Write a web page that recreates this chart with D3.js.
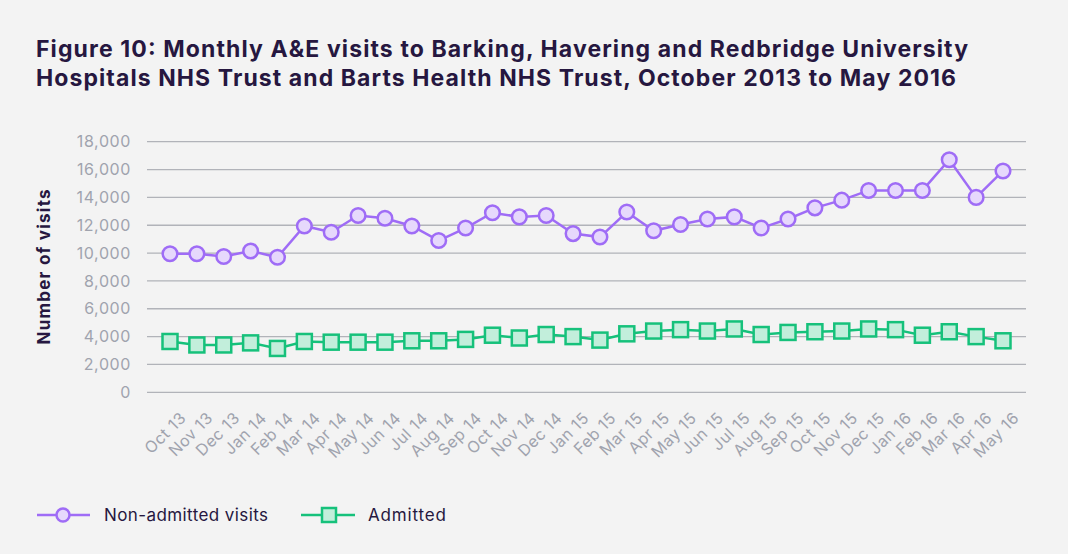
<!DOCTYPE html>
<html>
<head>
<meta charset="utf-8">
<script src="https://cdn.jsdelivr.net/npm/d3@7"></script>
<style>
  html, body { margin: 0; padding: 0; background: #f3f3f3; }
  svg { display: block; font-family: "Inter", "Open Sans", sans-serif; }
</style>
</head>
<body>
<svg id="chart"></svg>
<script>
const months = ["Oct 13","Nov 13","Dec 13","Jan 14","Feb 14","Mar 14","Apr 14","May 14","Jun 14","Jul 14","Aug 14","Sep 14",
  "Oct 14","Nov 14","Dec 14","Jan 15","Feb 15","Mar 15","Apr 15","May 15","Jun 15","Jul 15","Aug 15","Sep 15",
  "Oct 15","Nov 15","Dec 15","Jan 16","Feb 16","Mar 16","Apr 16","May 16"];

const nonAdmitted = [9950, 9950, 9750, 10150, 9700, 11950, 11500, 12700, 12500, 11950, 10900, 11800,
  12900, 12600, 12700, 11400, 11150, 12950, 11600, 12050, 12450, 12600, 11800, 12450,
  13250, 13800, 14500, 14500, 14500, 16700, 14000, 15900];

const admitted = [3650, 3400, 3400, 3550, 3150, 3650, 3600, 3600, 3600, 3700, 3700, 3800,
  4100, 3900, 4150, 4000, 3750, 4200, 4400, 4500, 4400, 4550, 4150, 4300,
  4350, 4400, 4550, 4500, 4100, 4350, 4000, 3700];

const yTicks = [0, 2000, 4000, 6000, 8000, 10000, 12000, 14000, 16000, 18000];

const width = 1068, height = 554;
const svg = d3.select("#chart").attr("width", width).attr("height", height);

svg.append("rect").attr("width", width).attr("height", height).attr("fill", "#f3f3f3");

// title, stretched to the width of the original lines
const title = svg.append("text")
    .style("font-size", "23px")
    .style("font-weight", "bold")
    .style("fill", "#261740");
title.append("tspan").attr("x", 36).attr("y", 57)
    .attr("textLength", 932).attr("lengthAdjust", "spacing")
    .text("Figure 10: Monthly A&E visits to Barking, Havering and Redbridge University");
title.append("tspan").attr("x", 36).attr("y", 86)
    .attr("textLength", 920).attr("lengthAdjust", "spacing")
    .text("Hospitals NHS Trust and Barts Health NHS Trust, October 2013 to May 2016");

const x = d3.scalePoint().domain(months).range([170, 1003]);
const y = d3.scaleLinear().domain([0, 18000]).range([392.3, 141.7]);

// gridlines
svg.append("g").selectAll("line")
    .data(yTicks)
    .join("line")
    .attr("x1", 147).attr("x2", 1026)
    .attr("y1", d => y(d)).attr("y2", d => y(d))
    .attr("stroke", "#b1b3b9")
    .attr("stroke-width", 1.3);

// y tick labels
svg.append("g").selectAll("text")
    .data(yTicks)
    .join("text")
    .attr("x", 131)
    .attr("y", d => y(d))
    .attr("dy", "0.35em")
    .attr("text-anchor", "end")
    .style("font-size", "16px")
    .style("letter-spacing", "0.6px")
    .style("fill", "#a0a3ae")
    .text(d => d3.format(",")(d));

// y axis title
svg.append("text")
    .attr("transform", "translate(50, 267) rotate(-90)")
    .attr("text-anchor", "middle")
    .attr("textLength", 155).attr("lengthAdjust", "spacing")
    .style("font-size", "17px")
    .style("font-weight", "bold")
    .style("fill", "#261740")
    .text("Number of visits");

// x labels
svg.append("g").selectAll("text")
    .data(months)
    .join("text")
    .attr("transform", d => `translate(${x(d) + 17}, 419) rotate(-45)`)
    .attr("text-anchor", "end")
    .style("font-size", "16px")
    .style("letter-spacing", "0.5px")
    .style("fill", "#a0a3ae")
    .text(d => d);

const line = d3.line().x((d, i) => x(months[i])).y(d => y(d));

const purple = "#9f6cf6", purpleFill = "#e6d8fc";
const green = "#16c17b", greenFill = "#c2eedb";

// non-admitted
svg.append("path").datum(nonAdmitted)
    .attr("d", line).attr("fill", "none")
    .attr("stroke", purple).attr("stroke-width", 2.5);
svg.append("g").selectAll("circle")
    .data(nonAdmitted)
    .join("circle")
    .attr("cx", (d, i) => x(months[i]))
    .attr("cy", d => y(d))
    .attr("r", 7.3)
    .attr("fill", purpleFill)
    .attr("stroke", purple)
    .attr("stroke-width", 2.5);

// admitted
svg.append("path").datum(admitted)
    .attr("d", line).attr("fill", "none")
    .attr("stroke", green).attr("stroke-width", 2.5);
svg.append("g").selectAll("rect")
    .data(admitted)
    .join("rect")
    .attr("x", (d, i) => x(months[i]) - 7.5)
    .attr("y", d => y(d) - 7.5)
    .attr("width", 15).attr("height", 15)
    .attr("fill", greenFill)
    .attr("stroke", green)
    .attr("stroke-width", 2.5);

// legend
const legend = svg.append("g");
legend.append("line").attr("x1", 37).attr("x2", 90).attr("y1", 515).attr("y2", 515)
    .attr("stroke", purple).attr("stroke-width", 2.5);
legend.append("circle").attr("cx", 63).attr("cy", 515).attr("r", 6.5)
    .attr("fill", purpleFill).attr("stroke", purple).attr("stroke-width", 2.5);
legend.append("text").attr("x", 104).attr("y", 515).attr("dy", "0.35em")
    .attr("textLength", 164).attr("lengthAdjust", "spacing")
    .style("font-size", "17px").style("fill", "#261740").text("Non-admitted visits");

legend.append("line").attr("x1", 301).attr("x2", 355).attr("y1", 515).attr("y2", 515)
    .attr("stroke", green).attr("stroke-width", 2.5);
legend.append("rect").attr("x", 322).attr("y", 508).attr("width", 14).attr("height", 14)
    .attr("fill", greenFill).attr("stroke", green).attr("stroke-width", 2.5);
legend.append("text").attr("x", 368).attr("y", 515).attr("dy", "0.35em")
    .attr("textLength", 78).attr("lengthAdjust", "spacing")
    .style("font-size", "17px").style("fill", "#261740").text("Admitted");
</script>
</body>
</html>
